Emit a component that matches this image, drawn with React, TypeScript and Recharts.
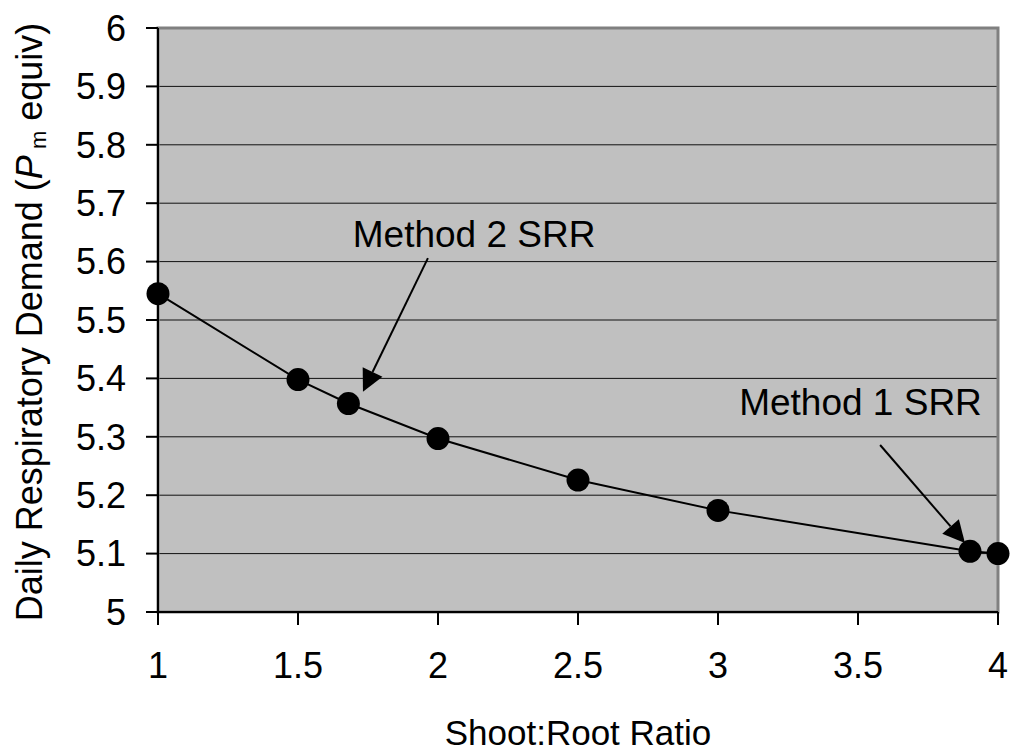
import React from 'react';
import {
  LineChart,
  Line,
  XAxis,
  YAxis,
  CartesianGrid,
  ReferenceLine,
  ReferenceDot,
  ReferenceArea,
} from 'recharts';

const shootRoot = [1, 1.5, 1.68, 2, 2.5, 3, 3.9, 4];
const demand = [5.545, 5.398, 5.357, 5.297, 5.226, 5.174, 5.104, 5.1];

const xTicks = [1, 1.5, 2, 2.5, 3, 3.5, 4];
const yTicks = [5, 5.1, 5.2, 5.3, 5.4, 5.5, 5.6, 5.7, 5.8, 5.9, 6];

// annotation arrows: start (text side) -> tip
const method2Arrow = [{ x: 1.964, y: 5.606 }, { x: 1.732, y: 5.377 }];
const method1Arrow = [{ x: 3.579, y: 5.286 }, { x: 3.882, y: 5.118 }];
const method2Label = { x: 2.129, y: 5.646, text: 'Method 2 SRR' };
const method1Label = { x: 3.509, y: 5.358, text: 'Method 1 SRR' };

const data = shootRoot.map((x, i) => ({ x, y: demand[i] }));

const FONT = 'Liberation Sans, Arial, sans-serif';

const ArrowShape = (props: any) => {
  const { x1, y1, x2, y2 } = props;
  const dx = x2 - x1;
  const dy = y2 - y1;
  const len = Math.sqrt(dx * dx + dy * dy) || 1;
  const ux = dx / len;
  const uy = dy / len;
  const headLen = 22;
  const half = 11;
  const bx = x2 - ux * headLen;
  const by = y2 - uy * headLen;
  const pts = `${x2},${y2} ${bx - uy * half},${by + ux * half} ${bx + uy * half},${by - ux * half}`;
  return (
    <g>
      <line x1={x1} y1={y1} x2={bx} y2={by} stroke="#000" strokeWidth={2} />
      <polygon points={pts} fill="#000" />
    </g>
  );
};

const labelShape = (text: string) => (p: any) => (
  <text
    x={p.cx}
    y={p.cy}
    textAnchor="middle"
    dominantBaseline="central"
    fontSize={37}
    fontFamily={FONT}
    fill="#000"
  >
    {text}
  </text>
);

const YTitle = () => (
  <text
    x={42}
    y={322}
    transform="rotate(-90, 42, 322)"
    textAnchor="middle"
    fontSize={36}
    fontFamily={FONT}
    fill="#000"
  >
    <tspan>Daily Respiratory Demand (</tspan>
    <tspan fontStyle="italic">P</tspan>
    <tspan fontSize={22} dy={4}> m</tspan>
    <tspan dy={-4}> equiv)</tspan>
  </text>
);

const App = () => {
  return (
    <div style={{ position: 'absolute', left: 0, top: 0, width: 1013, height: 751, background: '#fff' }}>
      <LineChart width={1013} height={751} data={data} margin={{ top: 28, right: 15, bottom: 0, left: 0 }}>
        <CartesianGrid
          horizontal
          vertical={false}
          fill="#c0c0c0"
          stroke="#111"
          strokeWidth={1}
          horizontalValues={yTicks}
        />
        <ReferenceArea x1={1} x2={4} y1={5} y2={6} fill="none" stroke="#808080" strokeWidth={3} />
        <XAxis
          dataKey="x"
          type="number"
          domain={[1, 4]}
          ticks={xTicks}
          height={139}
          tickSize={13}
          tickMargin={27}
          stroke="#000"
          strokeWidth={2}
          tick={{ fontSize: 36, fontFamily: FONT, fill: '#000' }}
          label={{ value: 'Shoot:Root Ratio', position: 'insideBottom', offset: 6, fontSize: 35, fontFamily: FONT, fill: '#000' }}
        />
        <YAxis
          type="number"
          domain={[5, 6]}
          ticks={yTicks}
          width={158}
          tickSize={12}
          tickMargin={20}
          stroke="#000"
          strokeWidth={2}
          tick={{ fontSize: 36, fontFamily: FONT, fill: '#000' }}
          label={<YTitle />}
        />
        <Line
          dataKey="y"
          stroke="#000"
          strokeWidth={2}
          dot={{ r: 11.5, fill: '#000', stroke: '#000', strokeWidth: 0 }}
          isAnimationActive={false}
        />
        <ReferenceLine segment={method2Arrow} shape={ArrowShape} />
        <ReferenceLine segment={method1Arrow} shape={ArrowShape} />
        <ReferenceDot x={method2Label.x} y={method2Label.y} r={0} shape={labelShape(method2Label.text)} />
        <ReferenceDot x={method1Label.x} y={method1Label.y} r={0} shape={labelShape(method1Label.text)} />
      </LineChart>
    </div>
  );
};

export default App;
